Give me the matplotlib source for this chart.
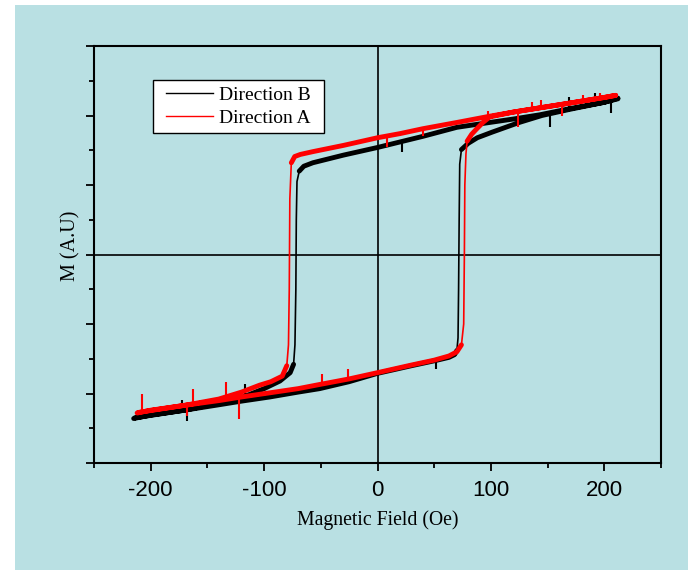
import matplotlib
matplotlib.use('Agg')
import matplotlib.pyplot as plt
import numpy as np
from matplotlib.patches import Rectangle
from matplotlib.ticker import MultipleLocator

plt.rcParams['axes.unicode_minus'] = False

# Direction B (black): descending branch, then ascending branch
b_field = [212, 200, 170, 143, 120, 99, 70, 40, 20, 0, -30, -57, -65, -69,
           -71, -71.6, -72, -72.8, -74, -77, -86, -100, -120, -140, -170, -200, -215,
           -214, -198, -170, -139, -120, -95, -70, -51, -25, 0, 30, 50, 63, 68, 70,
           71, 71.5, 72, 72.5, 74, 80, 88, 101, 125, 145, 170, 200, 212]
b_moment = [2.25, 2.19, 2.10, 2.01, 1.95, 1.90, 1.83, 1.70, 1.62, 1.54, 1.43, 1.32, 1.27, 1.20,
            1.05, 0.5, -0.5, -1.3, -1.58, -1.70, -1.82, -1.93, -2.06, -2.14, -2.24, -2.31, -2.36,
            -2.35, -2.31, -2.24, -2.16, -2.11, -2.05, -1.98, -1.93, -1.83, -1.71, -1.60, -1.53, -1.48, -1.44, -1.38,
            -1.2, -0.5, 0.5, 1.3, 1.51, 1.60, 1.68, 1.76, 1.90, 2.00, 2.09, 2.19, 2.24]
# noise spikes: field, level on the branch, tip
b_spike_field = [-168, -172, -117, 52, 22, 152, 169, 192, 206]
b_spike_base = [-2.25, -2.25, -2.09, -1.52, 1.60, 2.00, 2.09, 2.17, 2.22]
b_spike_tip = [-2.40, -2.09, -1.87, -1.65, 1.47, 1.83, 2.27, 2.33, 2.03]

# Direction A (red)
a_field = [210, 200, 170, 143, 120, 99, 70, 40, 20, 0, -30, -57, -68, -73,
           -76, -77.3, -77.8, -78.5, -80, -84, -94, -104, -120, -140, -170, -200, -212,
           -210, -198, -170, -139, -120, -95, -70, -51, -25, 0, 30, 50, 63, 70, 74,
           76, 76.6, 77, 78, 79, 83, 87, 93, 99, 120, 143, 170, 200, 210]
a_moment = [2.29, 2.26, 2.18, 2.11, 2.05, 1.99, 1.90, 1.81, 1.74, 1.68, 1.57, 1.48, 1.44, 1.41,
            1.32, 0.8, -0.5, -1.3, -1.6, -1.75, -1.83, -1.88, -1.98, -2.08, -2.17, -2.24, -2.28,
            -2.27, -2.24, -2.17, -2.10, -2.05, -1.99, -1.93, -1.87, -1.79, -1.70, -1.59, -1.52, -1.46, -1.40, -1.30,
            -1.0, 0.0, 1.0, 1.45, 1.63, 1.73, 1.80, 1.90, 1.98, 2.05, 2.11, 2.18, 2.26, 2.29]
a_spike_field = [-208, -163, -134, -122, -168, -49, -26, 8, 40, 97, 124, 136, 144, 163, 181, 196]
a_spike_base = [-2.26, -2.17, -2.10, -2.05, -2.18, -1.87, -1.80, 1.70, 1.81, 1.99, 2.05, 2.09, 2.11, 2.16, 2.21, 2.25]
a_spike_tip = [-2.01, -1.93, -1.84, -2.37, -2.33, -1.72, -1.65, 1.54, 1.70, 2.06, 1.83, 2.20, 2.22, 1.99, 2.30, 2.33]

series = [('Direction B', b_field, b_moment, b_spike_field, b_spike_base, b_spike_tip, 'black'),
          ('Direction A', a_field, a_moment, a_spike_field, a_spike_base, a_spike_tip, 'red')]

bg = '#b9e0e3'
fig = plt.figure(figsize=(6.88, 5.70), dpi=100, facecolor='white')
fig.patches.append(Rectangle((15 / 688, 0), 1, 565 / 570, transform=fig.transFigure,
                             facecolor=bg, edgecolor='none', zorder=-10))
ax = fig.add_axes([0.1366, 0.1877, 0.8242, 0.7316])
ax.set_facecolor(bg)

for name, x, y, sx, sb, st, c in series:
    x = np.array(x, dtype=float)
    y = np.array(y, dtype=float)
    ax.plot(x, y, color=c, lw=1.2, label=name, zorder=3)
    # noisy flat branches look thicker than the steep switching edges
    flat = np.abs(np.diff(y) / np.diff(x)) < 0.06
    keep = np.zeros(len(y), dtype=bool)
    keep[:-1] |= flat
    keep[1:] |= flat
    ax.plot(x, np.where(keep, y, np.nan), color=c, lw=3.5, zorder=3,
            solid_capstyle='round', solid_joinstyle='round')
    ax.vlines(sx, sb, st, color=c, lw=1.5, zorder=3)

ax.axhline(0, color='black', lw=1.2, zorder=2)
ax.axvline(0, color='black', lw=1.2, zorder=2)

ax.set_xlim(-250, 250)
ax.set_ylim(-3, 3)
ax.xaxis.set_major_locator(MultipleLocator(100))
ax.xaxis.set_minor_locator(MultipleLocator(50))
ax.yaxis.set_major_locator(MultipleLocator(1))
ax.yaxis.set_minor_locator(MultipleLocator(0.5))
ax.tick_params(which='major', direction='out', length=6, width=1.3, labelsize=16, pad=6)
ax.tick_params(which='minor', direction='out', length=3.5, width=1.3)
ax.tick_params(axis='y', labelleft=False)
for lab in ax.get_xticklabels():
    lab.set_family('Liberation Sans')
for s in ax.spines.values():
    s.set_linewidth(1.5)

ax.set_xlabel('Magnetic Field (Oe)', family='Liberation Serif', fontsize=14.2, labelpad=7)
ax.set_ylabel('M (A.U)', family='Liberation Serif', fontsize=14.5, labelpad=2.5)
ax.yaxis.label.set_y(0.52)

leg = ax.legend(loc='upper left', bbox_to_anchor=(0.1164, 0.918), borderaxespad=0,
                prop={'family': 'Liberation Serif', 'size': 14}, frameon=False,
                handlelength=2.4, handletextpad=0.3, labelspacing=0.27, borderpad=0.33)
for h in leg.get_lines():
    h.set_linewidth(1.0)
leg.set_zorder(6)

# legend box: wider side padding than matplotlib's uniform borderpad
fig.canvas.draw()
bb = leg.get_window_extent().transformed(fig.transFigure.inverted())
padx = 7 / 688
ax.add_patch(Rectangle((bb.x0 - padx, bb.y0), bb.width + 2 * padx, bb.height,
                       transform=fig.transFigure, facecolor='white', edgecolor='black',
                       lw=1.0, zorder=5, clip_on=False))

fig.savefig('out.png', dpi=100, facecolor='white')
